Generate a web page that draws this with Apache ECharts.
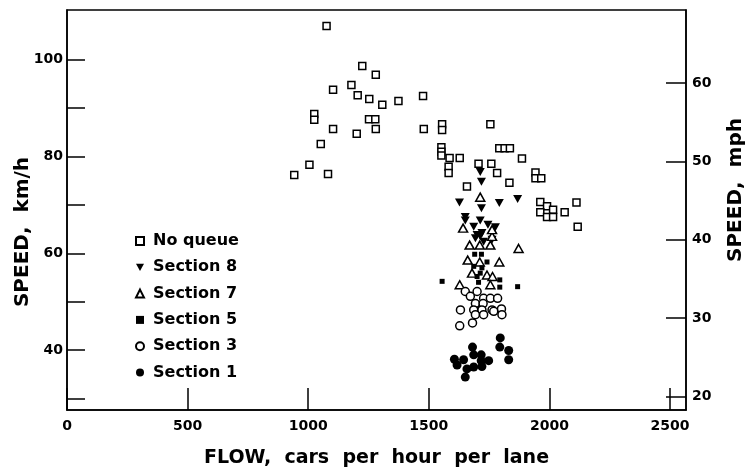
<!DOCTYPE html>
<html><head><meta charset="utf-8">
<script src="https://cdn.jsdelivr.net/npm/echarts@6/dist/echarts.min.js"></script>
<style>html,body{margin:0;padding:0;background:#fff}#c{width:746px;height:470px}</style>
</head><body><div id="c"></div>
<script>
// axis ticks / labels
const flowTicks = [0, 500, 1000, 1500, 2000, 2500];
const kmhTicks = [30, 40, 50, 60, 70, 80, 90, 100];
const kmhLabels = [40, 60, 80, 100];
const mphTicks = [20, 30, 40, 50, 60];
const seriesNames = ['No queue', 'Section 8', 'Section 7', 'Section 5', 'Section 3', 'Section 1'];

// [flow (cars/h/lane), speed (km/h)]
const noQueue = [
  [1076,107.0],[1224,98.7],[1280,96.9],[1179,94.8],[1103,93.8],[1205,92.7],[1253,91.9],
  [1307,90.7],[1374,91.5],[1476,92.5],[1025,88.8],[1025,87.6],[1252,87.7],[1278,87.7],
  [1103,85.7],[1280,85.7],[1201,84.7],[1479,85.7],[1555,86.7],[1555,85.5],[1755,86.7],
  [1052,82.6],[1005,78.3],[942,76.2],[1082,76.4],[1552,81.9],[1552,81.0],[1552,80.2],
  [1586,79.7],[1628,79.7],[1582,77.9],[1582,76.6],[1706,78.5],[1759,78.5],[1792,81.7],
  [1814,81.7],[1836,81.7],[1783,76.6],[1658,73.8],[1886,79.6],[1834,74.6],[1942,76.7],
  [1942,75.5],[1966,75.5],[1962,70.6],[1990,69.7],[2015,69.0],[1962,68.5],[1990,67.5],
  [2015,67.5],[2063,68.5],[2112,70.5],[2117,65.5]
];
const section8 = [
  [1713,76.8],[1718,74.8],[1627,70.5],[1718,69.3],[1792,70.4],[1868,71.2],[1651,67.5],
  [1651,66.8],[1686,65.5],[1713,66.8],[1745,65.9],[1776,65.4],[1713,63.5],[1693,63.1],
  [1700,63.8],[1727,62.4],[1762,62.8],[1720,64.2]
];
const section7 = [
  [1713,71.6],[1642,65.2],[1762,63.5],[1762,64.9],[1669,61.7],[1711,61.7],[1755,61.7],
  [1872,61.0],[1661,58.6],[1711,58.2],[1792,58.2],[1679,55.9],[1741,55.5],[1764,55.2],
  [1628,53.5],[1755,53.5]
];
const section5 = [
  [1690,59.8],[1718,59.8],[1741,58.2],[1686,57.3],[1720,57.0],[1713,55.9],[1700,55.2],
  [1794,54.5],[1555,54.2],[1868,53.1],[1706,54.0],[1794,53.0]
];
const section3 = [
  [1651,52.1],[1700,52.1],[1672,51.1],[1727,50.7],[1755,50.7],[1785,50.7],[1693,49.6],
  [1725,49.6],[1631,48.3],[1686,48.3],[1720,48.3],[1762,48.3],[1801,48.5],[1693,47.3],
  [1727,47.3],[1803,47.3],[1769,48.0],[1628,45.0],[1681,45.6]
];
const section1 = [
  [1796,42.5],[1794,40.6],[1831,39.9],[1831,38.0],[1681,40.6],[1686,39.0],[1717,39.0],
  [1606,38.1],[1644,38.0],[1717,37.8],[1748,37.8],[1617,36.9],[1686,36.5],[1720,36.6],
  [1658,36.1],[1651,34.4]
];

const FONT = 'DejaVu Sans';
const downTri = 'path://M0,0L10,0L5,9Z';
const chart = echarts.init(document.getElementById('c'), null, {renderer: 'canvas'});
const axisLine = {show: true, lineStyle: {color: '#000', width: 1.5}};
const labelStyle = {color: '#000', fontFamily: FONT, fontWeight: 'bold', fontSize: 14};
const nameStyle = {color: '#000', fontFamily: FONT, fontWeight: 'bold', fontSize: 19};
const plain = v => String(v);

function sc(name, data, symbol, size, filled) {
  return {
    name: name, type: 'scatter', data: data, symbol: symbol, symbolSize: size,
    itemStyle: filled ? {color: '#000', borderWidth: 0, opacity: 1}
                      : {color: '#fff', borderColor: '#000', borderWidth: 1.5, opacity: 1},
    emphasis: {disabled: true}, animation: false
  };
}

chart.setOption({
  animation: false,
  backgroundColor: '#fff',
  grid: {left: 67, right: 60, top: 10, bottom: 60, outerBoundsMode: 'none', containLabel: false,
         show: true, borderColor: '#000', borderWidth: 1.5, backgroundColor: 'transparent'},
  legend: {
    orient: 'vertical', left: 130, top: 228, itemWidth: 8, itemHeight: 8, itemGap: 10.3,
    data: seriesNames,
    textStyle: {color: '#000', fontFamily: FONT, fontWeight: 'bold', fontSize: 16, padding: [0,0,0,4]},
    selectedMode: false
  },
  xAxis: {
    type: 'value', min: 0, max: 2566,
    name: 'FLOW,  cars  per  hour  per  lane', nameLocation: 'middle', nameGap: 39,
    nameMoveOverlap: false,
    nameTextStyle: nameStyle,
    axisLine: axisLine,
    axisTick: {show: true, inside: true, length: 22, lineStyle: {color: '#000', width: 1.5}, customValues: flowTicks},
    axisLabel: Object.assign({margin: 9, customValues: flowTicks, formatter: plain}, labelStyle),
    splitLine: {show: false}
  },
  yAxis: [{
    type: 'value', min: 27.6, max: 110.3, position: 'left',
    name: 'SPEED,  km/h', nameLocation: 'middle', nameGap: 34, nameRotate: 90,
    nameMoveOverlap: false,
    nameTextStyle: Object.assign({padding: [0, 44, 0, 0]}, nameStyle, {fontSize: 20}),
    axisLine: axisLine,
    axisTick: {show: true, inside: true, length: 18, lineStyle: {color: '#000', width: 1.5}, customValues: kmhTicks},
    axisLabel: Object.assign({margin: 4, customValues: kmhLabels, formatter: plain}, labelStyle),
    splitLine: {show: false}
  }, {
    type: 'value', min: 18.3, max: 69.3, position: 'right',
    name: 'SPEED,  mph', nameLocation: 'middle', nameGap: 40, nameRotate: 90,
    nameMoveOverlap: false,
    nameTextStyle: Object.assign({padding: [0, 0, 0, 40]}, nameStyle, {fontSize: 20}),
    axisLine: axisLine,
    axisTick: {show: true, inside: true, length: 20, lineStyle: {color: '#000', width: 1.5}, customValues: mphTicks},
    axisLabel: Object.assign({margin: 6, customValues: mphTicks, formatter: plain}, labelStyle),
    splitLine: {show: false}
  }],
  series: [
    sc(seriesNames[0], noQueue, 'rect', 7, false),
    sc(seriesNames[1], section8, downTri, [9, 8], true),
    sc(seriesNames[2], section7, 'triangle', [9, 8], false),
    sc(seriesNames[3], section5, 'rect', 5, true),
    sc(seriesNames[4], section3, 'circle', 8, false),
    sc(seriesNames[5], section1, 'circle', 9, true)
  ]
});
</script></body></html>
